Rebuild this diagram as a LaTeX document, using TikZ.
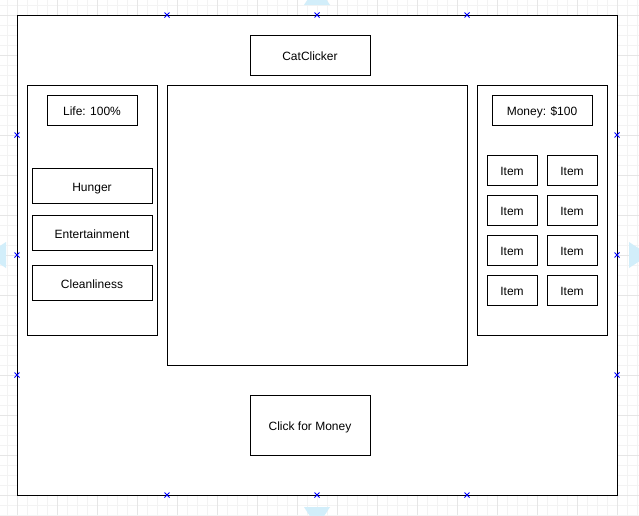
\documentclass[tikz,border=0pt]{standalone}
\usepackage{fontspec}
\setmainfont{Liberation Sans}
\definecolor{gridminor}{HTML}{F3F3F3}
\definecolor{gridmajor}{HTML}{E6E6E6}
\definecolor{hint}{HTML}{D2EEFA}
\definecolor{marker}{HTML}{0000FF}
\begin{document}
\begin{tikzpicture}[x=1pt,y=-1pt,
  box/.style={draw=black,line width=1pt,fill=white},
  lbl/.style={font=\fontsize{12}{14}\selectfont,text=black,text depth=0pt,yshift=-1.5pt},
  xmark/.style={draw=marker,line width=0.8pt},
  hintarrow/.style={fill=hint,draw=none}]
\useasboundingbox (0,0) rectangle (639,515);
\fill[white] (0,0) rectangle (639,515);
% grid
\foreach \x in {7,17,...,637} {\draw[gridminor,line width=0.6pt] (\x,0) -- (\x,515);}
\foreach \y in {5,15,...,515} {\draw[gridminor,line width=0.6pt] (0,\y) -- (639,\y);}
\foreach \x in {17,57,...,637} {\draw[gridmajor,line width=0.6pt] (\x,0) -- (\x,515);}
\foreach \y in {15,55,...,515} {\draw[gridmajor,line width=0.6pt] (0,\y) -- (639,\y);}
% hint arrows (tips cut off by the image edge)
\fill[hintarrow] (304,5) -- (317,-15) -- (330,5) -- cycle;
\fill[hintarrow] (304,507) -- (317,527) -- (330,507) -- cycle;
\fill[hintarrow] (6,242) -- (-14,255) -- (6,268) -- cycle;
\fill[hintarrow] (629,242) -- (649,255) -- (629,268) -- cycle;
% outer frame
\node[box,minimum width=600pt,minimum height=480pt,inner sep=0pt] (frame) at (317,255) {};
% title
\node[box,minimum width=120pt,minimum height=40pt,inner sep=0pt] (title) at (310,55) {};
\node[lbl] at (title.center) {CatClicker};
% left panel
\node[box,minimum width=130pt,minimum height=250pt,inner sep=0pt] (left) at (92,210) {};
\node[box,lbl,minimum width=90pt,minimum height=30pt,inner sep=0pt,yshift=1.5pt] (life) at (92,110) {};
\node[lbl] at (life.center) {Life: 100\%};
\node[box,minimum width=120pt,minimum height=35pt,inner sep=0pt] (hunger) at (92,185.5) {};
\node[lbl] at (hunger.center) {Hunger};
\node[box,minimum width=120pt,minimum height=35pt,inner sep=0pt] (ent) at (92,232.5) {};
\node[lbl] at (ent.center) {Entertainment};
\node[box,minimum width=120pt,minimum height=35pt,inner sep=0pt] (clean) at (92,282.5) {};
\node[lbl] at (clean.center) {Cleanliness};
% center
\node[box,minimum width=300pt,minimum height=280pt,inner sep=0pt] (center) at (317,225) {};
% right panel
\node[box,minimum width=130pt,minimum height=250pt,inner sep=0pt] (right) at (542,210) {};
\node[box,minimum width=100pt,minimum height=30pt,inner sep=0pt] (money) at (542,110) {};
\node[lbl] at (money.center) {Money: \$100};
\foreach \r/\y in {1/170,2/210,3/250,4/290} {
  \node[box,minimum width=50pt,minimum height=30pt,inner sep=0pt] (itemA\r) at (512,\y) {};
  \node[lbl] at (itemA\r.center) {Item};
  \node[box,minimum width=50pt,minimum height=30pt,inner sep=0pt] (itemB\r) at (572,\y) {};
  \node[lbl] at (itemB\r.center) {Item};
}
% button
\node[box,minimum width=120pt,minimum height=60pt,inner sep=0pt] (click) at (310,425) {};
\node[lbl] at (click.center) {Click for Money};
% markers
\foreach \p in {(167,15),(317,15),(467,15),(17,135),(17,255),(17,375),(617,135),(617,255),(617,375),(167,495),(317,495),(467,495)} {
  \draw[xmark] \p ++(-2.5,-2.5) -- ++(5,5) \p ++(-2.5,2.5) -- ++(5,-5);
}
\end{tikzpicture}
\end{document}
